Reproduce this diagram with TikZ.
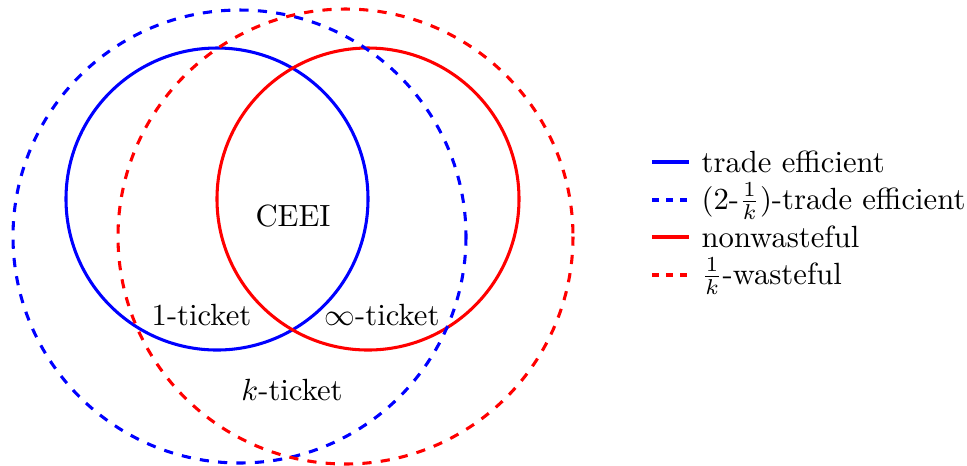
\documentclass[tikz,border=0pt]{standalone}
\begin{document}
\begin{tikzpicture}[x=0.326pt,y=-0.326pt,
  ring/.style={line width=1pt},
  lbl/.style={anchor=base,inner sep=0pt},
  legtext/.style={anchor=base west,inner sep=0pt},
  legdash/.style={dash pattern=on 2.3pt off 2.3pt}]
\useasboundingbox (0,0) rectangle (967,465);
% coordinates
\coordinate (cb) at (217,199);
\coordinate (cr) at (368,199);
\coordinate (cbd) at (239.5,236.5);
\coordinate (crd) at (345.5,236.5);
% circles
\draw[ring,blue] (cb) circle[radius=151];
\draw[ring,red] (cr) circle[radius=151];
\draw[ring,blue,dashed] (cbd) circle[radius=226.5];
\draw[ring,red,dashed] (crd) circle[radius=227.5];
% labels
\node[lbl] (ceei) at (293,226) {CEEI};
\node[lbl] (one) at (201.5,325) {1-ticket};
\node[lbl] (inf) at (382,325) {$\infty$-ticket};
\node[lbl] (kt) at (292,400) {$k$-ticket};
% legend
\coordinate (l1a) at (652,162); \coordinate (l1b) at (689,162);
\coordinate (l2a) at (652,200); \coordinate (l2b) at (689,200);
\coordinate (l3a) at (652,237); \coordinate (l3b) at (689,237);
\coordinate (l4a) at (652,275); \coordinate (l4b) at (689,275);
\draw[ring,blue] (l1a) -- (l1b);
\draw[ring,blue,legdash] (l2a) -- (l2b);
\draw[ring,red] (l3a) -- (l3b);
\draw[ring,red,legdash] (l4a) -- (l4b);
\node[legtext] (t1) at (701,172) {trade efficient};
\node[legtext] (t2) at (701,209) {(2-$\frac{1}{k}$)-trade efficient};
\node[legtext] (t3) at (701,247) {nonwasteful};
\node[legtext] (t4) at (701,284) {$\frac{1}{k}$-wasteful};
\end{tikzpicture}
\end{document}
